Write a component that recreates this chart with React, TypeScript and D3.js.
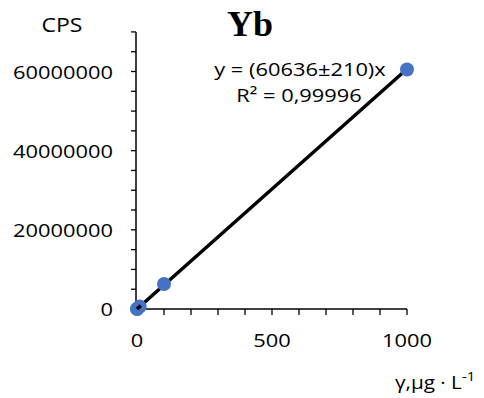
import React from "react";
import * as d3 from "d3";

const concentrations = [0, 1, 10, 100, 1000];
const cps = [0, 60000, 610000, 6300000, 60500000];
const slope = 60636;
const xTicks = [0, 500, 1000];
const yTicks = [0, 20000000, 40000000, 60000000];
const titleText = "Yb";
const yAxisTitle = "CPS";
const equationText = "y = (60636±210)x";
const r2Text = "R² = 0,99996";

const W = 484;
const H = 398;
const FONT = "'Open Sans', sans-serif";

export default function App() {
  const x = d3.scaleLinear().domain([0, 1000]).range([137, 407]);
  const y = d3.scaleLinear().domain([0, 60000000]).range([309, 71.5]);
  const xMinor = d3.range(0, 1001, 100);
  const yMinor = d3.range(0, 70000001, 5000000);
  const line = d3.line<number>().x((d) => x(d)).y((d) => y(d * slope));
  const sx = 1.15;
  const T = (props: any) => {
    const { x: tx, y: ty, anchor, size, children, scale = sx, ...rest } = props;
    return (
      <text
        transform={`translate(${tx},${ty}) scale(${scale},1)`}
        textAnchor={anchor}
        fontSize={size}
        fontFamily={FONT}
        fill="#000"
        {...rest}
      >
        {children}
      </text>
    );
  };
  return (
    <svg width={W} height={H} style={{ position: "absolute", left: 0, top: 0 }}>
      <rect width={W} height={H} fill="#fff" />
      {/* y axis */}
      <line x1={136} x2={136} y1={y(70000000)} y2={309} stroke="#000" strokeWidth={1.5} />
      {yMinor.map((v) => (
        <line key={"ym" + v} x1={131} x2={136} y1={y(v)} y2={y(v)} stroke="#000" strokeWidth={1.3} />
      ))}
      {/* x axis */}
      <line x1={136} x2={x(1000)} y1={309} y2={309} stroke="#000" strokeWidth={1.5} />
      {xMinor.map((v) => (
        <line key={"xm" + v} x1={x(v)} x2={x(v)} y1={309} y2={315} stroke="#000" strokeWidth={1.3} />
      ))}
      {yTicks.map((v) => (
        <T key={"yl" + v} x={113} y={y(v) + 7} anchor="end" size={19}>
          {String(v)}
        </T>
      ))}
      {xTicks.map((v) => (
        <T key={"xl" + v} x={x(v)} y={347} anchor="middle" size={19}>
          {String(v)}
        </T>
      ))}
      {/* regression line */}
      <path d={line([0, 1000]) || ""} stroke="#000" strokeWidth={3.5} fill="none" />
      {concentrations.map((c, i) => (
        <circle key={"p" + i} cx={x(c)} cy={y(cps[i])} r={7} fill="#4472C4" />
      ))}
      <line x1={x(0)} y1={y(0)} x2={x(14)} y2={y(14 * slope)} stroke="#000" strokeWidth={3.5} />
      {/* texts */}
      <text x={250} y={36} textAnchor="middle" fontFamily="'Liberation Serif', serif" fontWeight="bold" fontSize={36}>
        {titleText}
      </text>
      <T x={62} y={32} anchor="middle" size={20}>
        {yAxisTitle}
      </T>
      <T x={300} y={76} anchor="middle" size={19}>
        {equationText}
      </T>
      <T x={299} y={102} anchor="middle" size={19}>
        {r2Text}
      </T>
      <T x={395} y={389} anchor="start" size={18} scale={1.15}>
        γ,μg · L<tspan dy={-8} fontSize={13}>-1</tspan>
      </T>
    </svg>
  );
}
